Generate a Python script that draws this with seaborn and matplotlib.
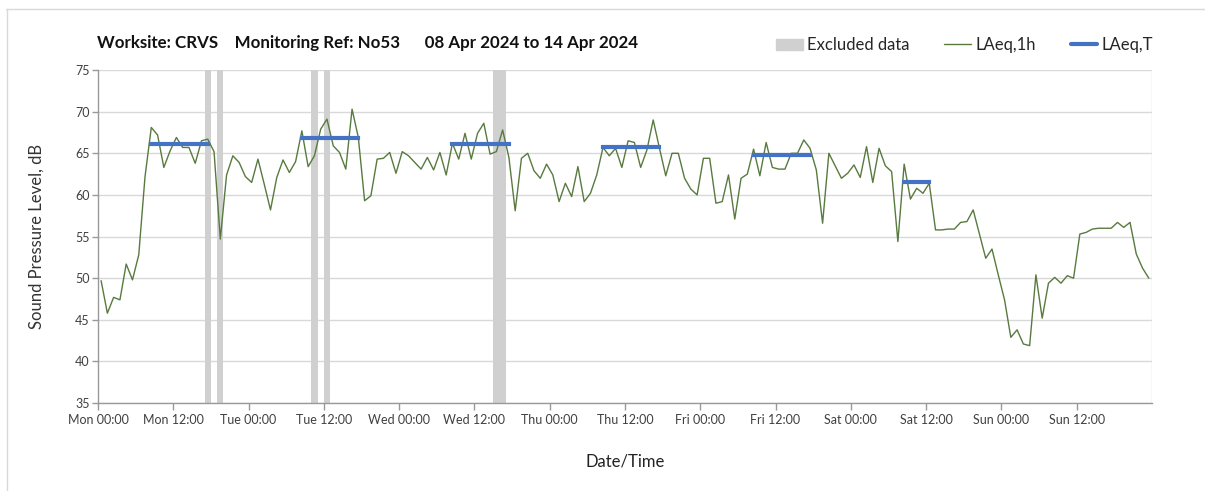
import numpy as np
import pandas as pd
import matplotlib as mpl
import matplotlib.pyplot as plt
import seaborn as sns
from matplotlib.lines import Line2D
from matplotlib.patches import Patch

# 数据：每小时 LAeq,1h（周一 00:00 起，共 168 小时）
laeq_1h = [
    49.7, 45.8, 47.7, 47.4, 51.7, 49.8, 52.8, 62.2, 68.1, 67.2, 63.3, 65.3,
    66.9, 65.7, 65.7, 63.8, 66.5, 66.7, 65.2, 54.7, 62.4, 64.7, 63.9, 62.2,
    61.5, 64.3, 61.3, 58.2, 62.1, 64.2, 62.7, 64.0, 67.7, 63.4, 64.7, 67.9,
    69.1, 65.9, 65.1, 63.1, 70.3, 66.9, 59.3, 59.9, 64.3, 64.4, 65.1, 62.6,
    65.2, 64.7, 63.9, 63.1, 64.5, 63.0, 65.1, 62.4, 66.2, 64.3, 67.4, 64.3,
    67.4, 68.6, 64.9, 65.2, 67.8, 64.5, 58.1, 64.4, 65.0, 62.9, 62.0, 63.7,
    62.4, 59.2, 61.4, 59.8, 63.4, 59.2, 60.2, 62.4, 65.7, 64.7, 65.6, 63.3,
    66.5, 66.3, 63.3, 65.4, 69.0, 65.6, 62.3, 65.0, 65.0, 62.0, 60.7, 60.0,
    64.4, 64.4, 59.0, 59.2, 62.4, 57.1, 62.0, 62.5, 65.5, 62.3, 66.3, 63.3,
    63.1, 63.1, 65.0, 65.0, 66.6, 65.6, 63.0, 56.6, 65.0, 63.5, 62.0, 62.6,
    63.6, 62.1, 65.8, 61.5, 65.6, 63.5, 62.8, 54.4, 63.7, 59.5, 60.8, 60.2,
    61.4, 55.8, 55.8, 55.9, 55.9, 56.7, 56.8, 58.2, 55.3, 52.4, 53.5, 50.4,
    47.4, 42.9, 43.8, 42.1, 41.9, 50.4, 45.2, 49.4, 50.1, 49.4, 50.3, 50.0,
    55.3, 55.5, 55.9, 56.0, 56.0, 56.0, 56.7, 56.1, 56.7, 52.9, 51.2, 50.0,
]

# 剔除数据的小时
excluded_hours = [17, 19, 34, 36, 63, 64]

# LAeq,T 时段：首小时、末小时、数值
period_first = [8, 32, 56, 80, 104, 128]
period_last = [17, 41, 65, 89, 113, 132]
period_level = [66.1, 66.8, 66.1, 65.7, 64.8, 61.5]

tick_labels = ['Mon 00:00', 'Mon 12:00', 'Tue 00:00', 'Tue 12:00', 'Wed 00:00',
               'Wed 12:00', 'Thu 00:00', 'Thu 12:00', 'Fri 00:00', 'Fri 12:00',
               'Sat 00:00', 'Sat 12:00', 'Sun 00:00', 'Sun 12:00']

df = pd.DataFrame({'hour': np.arange(len(laeq_1h)) + 0.5, 'LAeq': laeq_1h})

sns.set_style('white')
mpl.rcParams['font.family'] = ['Lato', 'DejaVu Sans']

green = '#587a3e'
blue = '#4472c4'
band = '#d0d0d0'
grid = '#d9d9d9'

fig = plt.figure(figsize=(12.05, 4.91), dpi=100)
ax = fig.add_axes([0.0813, 0.179, 0.8747, 0.6784])

for h in excluded_hours:
    ax.axvspan(h, h + 1, color=band, lw=0, zorder=1)

sns.lineplot(data=df, x='hour', y='LAeq', color=green, lw=1, ax=ax, zorder=3)

ax.hlines(period_level, np.array(period_first) + 0.5, np.array(period_last) + 0.5,
          colors=blue, lw=3, zorder=4, capstyle='projecting')

ax.set_xlim(0, 168)
ax.set_ylim(35, 75)
ax.set_yticks(range(35, 80, 5))
ax.set_xticks(range(0, 168, 12))
ax.set_xticklabels(tick_labels)
ax.set_xticks(range(0, 169, 24), minor=True)
ax.grid(False)
ax.grid(axis='y', which='major', color=grid, lw=1, zorder=0)
ax.grid(axis='x', which='minor', color=grid, lw=1, zorder=0)
ax.tick_params(axis='x', which='major', direction='out', length=5, width=1,
               color='#999999', labelsize=9, labelcolor='#404040', pad=3, bottom=True)
ax.tick_params(axis='x', which='minor', length=0)
ax.tick_params(axis='y', direction='out', length=4, width=1, color='#999999',
               labelsize=9, labelcolor='#404040', pad=2, left=True)
for s in ['top', 'right']:
    ax.spines[s].set_visible(False)
for s in ['left', 'bottom']:
    ax.spines[s].set_color('#999999')
    ax.spines[s].set_linewidth(1)

ax.set_xlabel('Date/Time', fontsize=12, color='#222222', labelpad=20)
ax.set_ylabel('Sound Pressure Level, dB', fontsize=12, color='#333333', labelpad=22)

fig.text(0.0805, 0.913, 'Worksite: CRVS    Monitoring Ref: No53      08 Apr 2024 to 14 Apr 2024',
         fontsize=12.2, fontweight='bold', color='#111111', va='center')

handles = [Patch(color=band), Line2D([], [], color=green, lw=1), Line2D([], [], color=blue, lw=3)]
fig.legend(handles, ['Excluded data', 'LAeq,1h', 'LAeq,T'], loc='center left',
           bbox_to_anchor=(0.6315, 0.908), ncol=3, frameon=False, fontsize=12,
           handlelength=1.6, handletextpad=0.25, columnspacing=2.1)

# 外框
fig.add_artist(Line2D([0.005, 1.0], [0.981, 0.981], color='#d9d9d9', lw=1, transform=fig.transFigure))
fig.add_artist(Line2D([0.006, 0.006], [0.0, 0.981], color='#d9d9d9', lw=1, transform=fig.transFigure))

fig.savefig('out.png', dpi=100)
